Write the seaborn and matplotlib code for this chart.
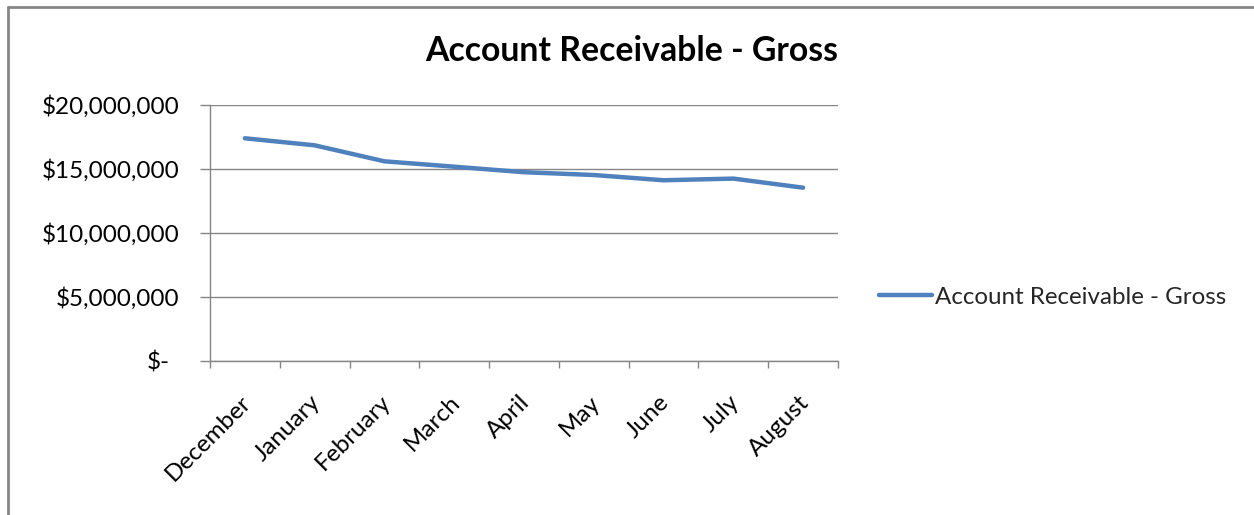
import matplotlib
matplotlib.use("Agg")
import matplotlib.pyplot as plt
import matplotlib.transforms as mtransforms
import seaborn as sns
import pandas as pd
from matplotlib.lines import Line2D

months = ["December", "January", "February", "March", "April", "May", "June", "July", "August"]
ar_gross = [17400000, 16850000, 15600000, 15180000, 14750000, 14530000, 14120000, 14250000, 13540000]
series_name = "Account Receivable - Gross"
y_ticks = [0, 5000000, 10000000, 15000000, 20000000]
y_labels = ["$-", "$5,000,000", "$10,000,000", "$15,000,000", "$20,000,000"]

sns.set_theme(style="white")
plt.rcParams["font.family"] = ["Lato", "DejaVu Sans"]

W, H = 1254, 515
fig = plt.figure(figsize=(W / 100, H / 100), dpi=100)
ax = fig.add_axes([210 / W, 1 - 361 / H, (838 - 210) / W, (361 - 105) / H])

df = pd.DataFrame({"month": months, "value": ar_gross, "pos": range(len(months))})
line_color = "#4F81BD"
sns.lineplot(data=df, x="pos", y="value", ax=ax, color=line_color, linewidth=3.2,
             sort=False, legend=False, solid_joinstyle="round", solid_capstyle="round")

ax.set_xlim(-0.5, len(months) - 0.5)
ax.set_ylim(0, 20000000)
ax.set_yticks(y_ticks)
ax.set_yticklabels(y_labels, fontsize=17.5, color="black")
ax.set_xticks([i - 0.5 for i in range(len(months) + 1)])
ax.set_xticklabels([])
ax.set_xticks(list(range(len(months))), minor=True)
ax.set_xticklabels(months, minor=True, rotation=45, ha="right", va="top",
                   rotation_mode="anchor", fontsize=17.5, color="black")
ax.tick_params(axis="x", which="minor", length=0, pad=22)
ax.tick_params(axis="x", which="major", length=5, color="#868686", width=1, direction="out", bottom=True)
ax.tick_params(axis="y", length=7, color="#868686", width=1, direction="out", left=True, pad=15)
ax.set_xlabel("")
ax.set_ylabel("")

# small offsets: month labels slightly left, "$-" label slightly left (accounting format)
shift_x = mtransforms.ScaledTranslation(-5 / 100, 0, fig.dpi_scale_trans)
for lbl in ax.get_xticklabels(minor=True):
    lbl.set_transform(lbl.get_transform() + shift_x)
shift_dash = mtransforms.ScaledTranslation(-10 / 100, 0, fig.dpi_scale_trans)
zero_lbl = ax.get_yticklabels()[0]
zero_lbl.set_transform(zero_lbl.get_transform() + shift_dash)

ax.grid(axis="y", color="#868686", linewidth=1)
ax.grid(axis="x", visible=False)
for s in ["top", "right"]:
    ax.spines[s].set_visible(False)
for s in ["left", "bottom"]:
    ax.spines[s].set_color("#868686")
    ax.spines[s].set_linewidth(1)

fig.text(632 / W, 1 - 51 / H, series_name, ha="center", va="center",
         fontsize=24.3, fontweight="bold", color="black")

handle = Line2D([], [], color=line_color, linewidth=3.2, solid_capstyle="round")
fig.legend([handle], [series_name], loc="center left",
           bbox_to_anchor=(867 / W, 1 - 297 / H), frameon=False,
           fontsize=17.4, handlelength=2.2, handletextpad=0.12, borderpad=0)

# chart border (left and top)
fig.add_artist(Line2D([8 / W, 8 / W], [0, 1 - 7 / H], transform=fig.transFigure,
                      color="#868686", linewidth=2))
fig.add_artist(Line2D([8 / W, 1], [1 - 7 / H, 1 - 7 / H], transform=fig.transFigure,
                      color="#868686", linewidth=2))

fig.savefig("out.png", dpi=100, facecolor="white")
